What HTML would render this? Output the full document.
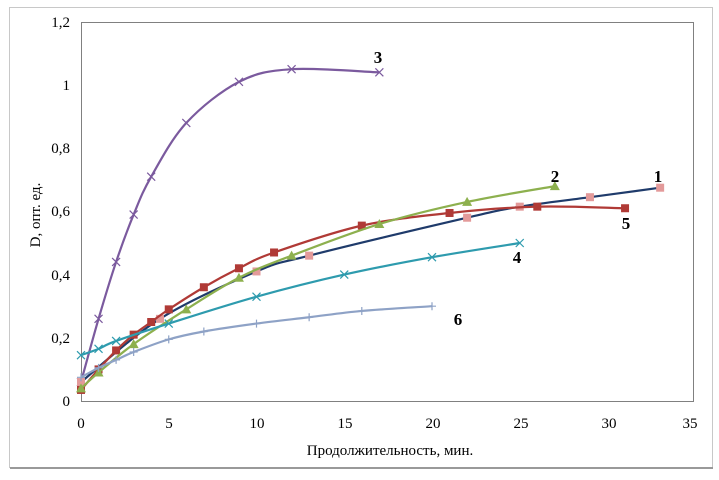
<!DOCTYPE html>
<html><head><meta charset="utf-8"><style>
body{margin:0;background:#fff;width:719px;height:475px;overflow:hidden}
svg text{font-family:"Liberation Serif",serif}
</style></head><body>
<svg id="s" width="719" height="475" xmlns="http://www.w3.org/2000/svg">
<rect x="9.5" y="7.5" width="703" height="460" fill="#fff" stroke="#c8c8c8"/>
<line x1="10" y1="468" x2="713" y2="468" stroke="#999" stroke-width="2"/>
<rect x="81.5" y="22.5" width="612" height="379" fill="none" stroke="#808080"/>
<g font-size="15" fill="#000" text-anchor="end">
<text x="70" y="406">0</text><text x="70" y="343">0,2</text><text x="70" y="280">0,4</text>
<text x="70" y="216">0,6</text><text x="70" y="153">0,8</text><text x="70" y="90">1</text><text x="70" y="27">1,2</text>
</g>
<g font-size="15" text-anchor="middle">
<text x="81" y="428">0</text><text x="169" y="428">5</text><text x="257" y="428">10</text><text x="345" y="428">15</text>
<text x="433" y="428">20</text><text x="521" y="428">25</text><text x="609" y="428">30</text><text x="690" y="428">35</text>
<text x="390" y="455">Продолжительность, мин.</text>
</g>
<text transform="translate(40,215) rotate(-90)" font-size="15" text-anchor="middle">D, опт. ед.</text>
<g id="series"></g>
<g font-size="17" font-weight="bold" text-anchor="middle">
<text x="378" y="63">3</text><text x="555" y="182">2</text><text x="658" y="182">1</text>
<text x="626" y="229">5</text><text x="517" y="263">4</text><text x="458" y="325">6</text>
</g>
</svg>
<script>
function X(t){return 81+17.55*t}function Y(d){return 401-316*d}
var S=[
{c:"#7B5A9E",m:"x",p:[[0,.06],[1,.26],[2,.44],[3,.59],[4,.71],[6,.88],[9,1.01],[12,1.05],[17,1.04]]},
{c:"#1F3B6B",m:"sq",mc:"#E39A9A",p:[[0,.06],[4.5,.26],[10,.41],[13,.46],[22,.58],[25,.615],[29,.645],[33,.675]]},
{c:"#B03A36",m:"sq",mc:"#B03A36",p:[[0,.035],[1,.10],[2,.16],[3,.21],[4,.25],[5,.29],[7,.36],[9,.42],[11,.47],[16,.555],[21,.595],[26,.615],[31,.61]]},
{c:"#8DB04E",m:"tri",p:[[0,.04],[1,.09],[3,.18],[6,.29],[9,.39],[12,.46],[17,.56],[22,.63],[27,.68]]},
{c:"#2E9BAE",m:"x",p:[[0,.145],[1,.165],[2,.19],[5,.245],[10,.33],[15,.40],[20,.455],[25,.50]]},
{c:"#8EA2C6",m:"+",p:[[0,.075],[1,.105],[2,.13],[3,.155],[5,.195],[7,.22],[10,.245],[13,.265],[16,.285],[20,.30]]}
];
var h="";
S.forEach(function(s){
 var P=s.p.map(function(q){return[X(q[0]),Y(q[1])]});
 var d="M"+P[0][0]+","+P[0][1];
 for(var i=0;i<P.length-1;i++){var p0=P[i-1]||P[i],p1=P[i],p2=P[i+1],p3=P[i+2]||p2;
  d+=" C"+(p1[0]+(p2[0]-p0[0])/6)+","+(p1[1]+(p2[1]-p0[1])/6)+" "+(p2[0]-(p3[0]-p1[0])/6)+","+(p2[1]-(p3[1]-p1[1])/6)+" "+p2[0]+","+p2[1];}
 h+='<path d="'+d+'" fill="none" stroke="'+s.c+'" stroke-width="2.2"/>';
 P.forEach(function(p){var x=p[0],y=p[1];
  if(s.m=="sq")h+='<rect x="'+(x-4)+'" y="'+(y-4)+'" width="8" height="8" fill="'+s.mc+'"/>';
  else if(s.m=="tri")h+='<polygon points="'+x+','+(y-5)+' '+(x-5)+','+(y+4)+' '+(x+5)+','+(y+4)+'" fill="'+s.c+'"/>';
  else if(s.m=="x")h+='<path d="M'+(x-4)+','+(y-4)+'L'+(x+4)+','+(y+4)+'M'+(x-4)+','+(y+4)+'L'+(x+4)+','+(y-4)+'" stroke="'+s.c+'" stroke-width="1.2"/>';
  else h+='<path d="M'+(x-4)+','+y+'L'+(x+4)+','+y+'M'+x+','+(y-4)+'L'+x+','+(y+4)+'" stroke="'+s.c+'" stroke-width="1.2"/>';
 });
});
document.getElementById("series").innerHTML=h;
</script>
</body></html>
